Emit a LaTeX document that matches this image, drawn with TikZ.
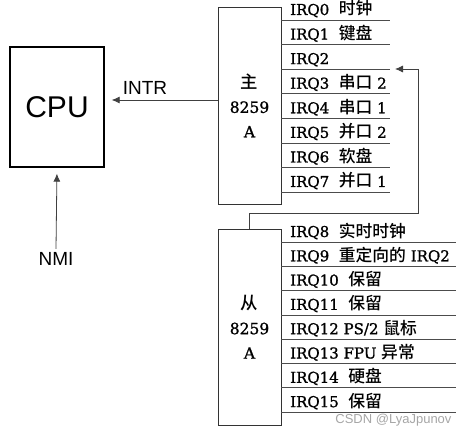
\documentclass[tikz,border=0pt]{standalone}
\usepackage{fontspec}
\setmainfont{DejaVu Serif}[RawFeature={embolden=1.2}]
\newfontfamily\cjk{Noto Sans CJK SC Medium}[Scale=1.12]
\newfontfamily\helv{Liberation Sans}
\usetikzlibrary{positioning, arrows.meta}

\begin{document}
\begin{tikzpicture}[x=1pt, y=-1pt,
	chip/.style={draw=black!80, line width=0.7pt, minimum width=63pt, minimum height=197pt,
		inner sep=0pt, align=center, font=\fontsize{15.5}{24.5}\selectfont},
	irq/.style={anchor=base west, inner sep=0pt, font=\fontsize{15}{18}\selectfont},
	row/.style={draw=black!70, line width=0.7pt},
	sig/.style={font=\helv\fontsize{19}{19}\selectfont},
	arr/.style={-{Latex[length=8pt, width=7pt]}, draw=black!75, line width=0.8pt}
	]
	\useasboundingbox (0,0) rectangle (468,436);
	\node[draw, line width=1.3pt, minimum width=94pt, minimum height=120pt,
		font=\helv\fontsize{30}{30}\selectfont] (CPU) at (57,107) {CPU};
	\node[chip] (master) at (249.5,105.5) {{\cjk 主}\\8259\\A};
	\node[chip, minimum height=196pt] (slave) at (249.5,327) {{\cjk 从}\\8259\\A};
	\foreach \t [count=\i from 0] in {{IRQ0~ {\cjk 时钟}}, {IRQ1~ {\cjk 键盘}}, {IRQ2},
		{IRQ3~ {\cjk 串口} 2}, {IRQ4~ {\cjk 串口} 1}, {IRQ5~ {\cjk 并口} 2},
		{IRQ6~ {\cjk 软盘}}, {IRQ7~ {\cjk 并口} 1}} {
		\node[irq] (m\i) at (290,15+24.57*\i) {\t};
		\draw[row] (master.east |- 0,20+24.57*\i) -- (390,20+24.57*\i);
	}
	\foreach \t [count=\i from 8] in {{IRQ8~ {\cjk 实时时钟}}, {IRQ9~ {\cjk 重定向的} IRQ2},
		{IRQ10~ {\cjk 保留}}, {IRQ11~ {\cjk 保留}}, {IRQ12 PS/2 {\cjk 鼠标}},
		{IRQ13 FPU {\cjk 异常}}, {IRQ14~ {\cjk 硬盘}}, {IRQ15~ {\cjk 保留}}} {
		\node[irq] (s\i) at (290,237+24.3*\i-194.4) {\t};
		\draw[row] (slave.east |- 0,242+24.3*\i-194.4) -- (456,242+24.3*\i-194.4);
	}
	\node[sig, anchor=base] (intr) at (145,94) {INTR};
	\node[sig] (nmi) at (56,259) {NMI};
	\draw[arr, shorten >=7pt] (master.west |- 0,100) -- (CPU.east |- 0,100);
	\draw[arr, shorten >=6pt] (nmi.north) -- (CPU.south);
	\coordinate (back) at (418,213);
	\coordinate (in2) at (395,69);
	\draw[arr] (slave.north) |- (back) |- (in2);
	\node[font=\helv\fontsize{13}{13}\selectfont, text=black!35, anchor=base east] (wm) at (455,423) {CSDN @LyaJpunov};
\end{tikzpicture}
\end{document}
